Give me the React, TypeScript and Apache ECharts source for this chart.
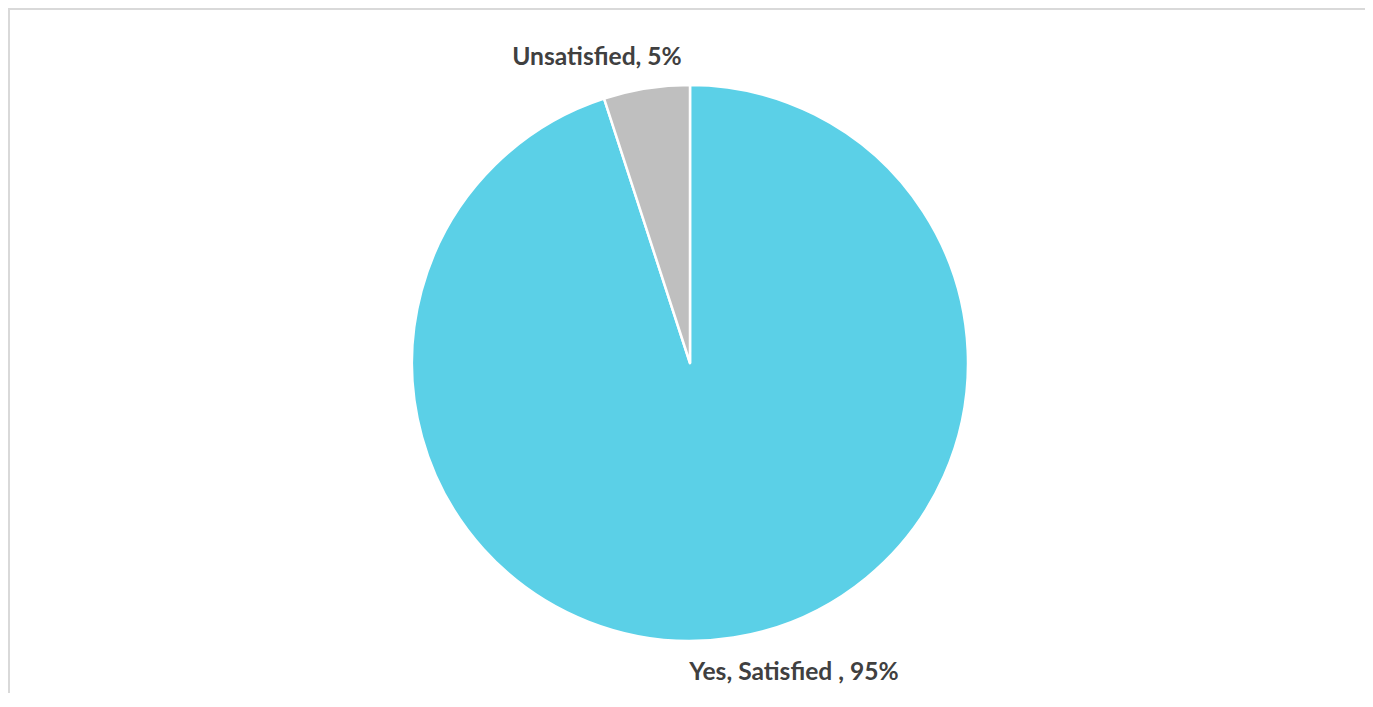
import React, { useEffect, useRef } from "react";
import * as echarts from "echarts";

const categories = ["Yes, Satisfied ", "Unsatisfied"];
const values = [95, 5];
const colors = ["#5BD0E7", "#BFBFBF"];

export default function App() {
  const ref = useRef<HTMLDivElement>(null);
  useEffect(() => {
    document.body.style.overflow = "hidden";
    const chart = echarts.init(ref.current!, undefined, { renderer: "svg" });
    const labelPos = [
      { x: 784, y: 660 },
      { x: 587, y: 45 },
    ];
    chart.setOption({
      animation: false,
      series: [
        {
          type: "pie",
          center: [680, 353],
          radius: [0, 278],
          startAngle: 90,
          clockwise: true,
          itemStyle: { borderColor: "#FFFFFF", borderWidth: 2.5 },
          label: {
            show: true,
            position: "outside",
            formatter: (p: any) => `${p.name}, ${p.value}%`,
            fontFamily: "Lato",
            fontWeight: "bold",
            fontSize: 24.6,
            color: "#404040",
          },
          labelLine: { show: false },
          labelLayout: (params: any) => {
            const pos = labelPos[params.dataIndex];
            return { x: pos.x, y: pos.y, align: "center", verticalAlign: "middle" };
          },
          emphasis: { disabled: true },
          data: categories.map((c, i) => ({
            name: c,
            value: values[i],
            itemStyle: { color: colors[i] },
          })),
        },
      ],
    });
    return () => chart.dispose();
  }, []);
  return (
    <div
      style={{
        width: 1363,
        height: 685,
        boxSizing: "border-box",
        borderTop: "2px solid #D9D9D9",
        borderLeft: "2px solid #D9D9D9",
        borderRight: "2px solid #D9D9D9",
        overflow: "hidden",
      }}
    >
      <div ref={ref} style={{ width: 1359, height: 683 }} />
    </div>
  );
}
